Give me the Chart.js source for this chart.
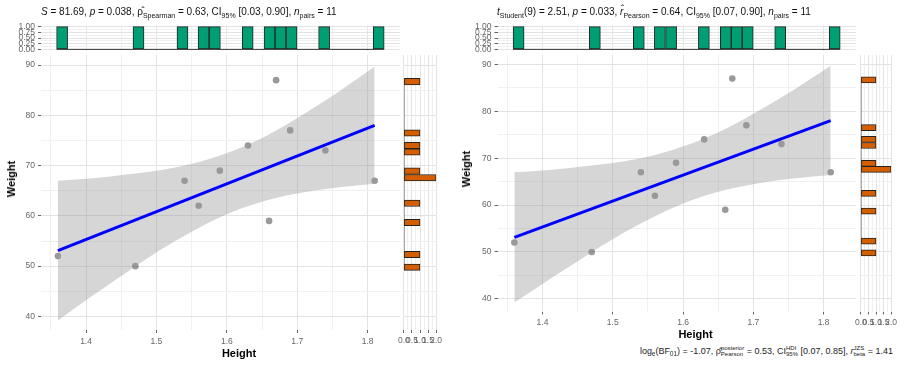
<!DOCTYPE html>
<html>
<head>
<meta charset="utf-8">
<title>Height vs Weight</title>
<script src="https://cdn.jsdelivr.net/npm/chart.js"></script>
<style>
    body { margin: 0; background: #fff; }
    #wrap { position: relative; width: 900px; height: 365px; overflow: hidden; font-family: 'Liberation Sans', Arial, sans-serif; color: #000; }
    canvas { position: absolute; }
    .t { position: absolute; top: 5px; font-size: 10px; line-height: 14px; white-space: nowrap; color: #111; }
    .sb { font-size: 7px; position: relative; top: 2.5px; }
    .cap { position: absolute; right: 7px; top: 345px; font-size: 9px; font-weight: normal; line-height: 12px; white-space: nowrap; color: #222; }
    .cap .sb { font-size: 6.3px; top: 2px; }
    .st { display: inline-flex; flex-direction: column; font-size: 6px; line-height: 6px; vertical-align: 4px; }
    .ax { position: absolute; font-weight: bold; font-size: 11px; white-space: nowrap; transform: translate(-50%, -50%); }
    .rot { transform: translate(-50%, -50%) rotate(-90deg); }
</style>
</head>
<body>
<div id="wrap">
    <canvas id="topL" width="410" height="55" style="left:0;top:5px"></canvas>
    <canvas id="mainL" width="410" height="320" style="left:0;top:45px"></canvas>
    <canvas id="sideL" width="50" height="320" style="left:395px;top:45px"></canvas>

    <canvas id="topR" width="416" height="55" style="left:450px;top:5px"></canvas>
    <canvas id="mainR" width="416" height="300" style="left:450px;top:45px"></canvas>
    <canvas id="sideR" width="48" height="300" style="left:852px;top:45px"></canvas>

    <div class="t" style="left:41px"><i>S</i> = 81.69, <i>p</i> = 0.038, ρ̂<span class="sb">Spearman</span> = 0.63, CI<span class="sb">95%</span> [0.03, 0.90], <i>n</i><span class="sb">pairs</span> = 11</div>
    <div class="t" style="left:497px"><i>t</i><span class="sb">Student</span>(9) = 2.51, <i>p</i> = 0.033, <i>r̂</i><span class="sb">Pearson</span> = 0.64, CI<span class="sb">95%</span> [0.07, 0.90], <i>n</i><span class="sb">pairs</span> = 11</div>
    <div class="cap">log<span class="sb">e</span>(BF<span class="sb">01</span>) = -1.07, ρ̂<span class="st"><span>posterior</span><span>Pearson</span></span> = 0.53, CI<span class="st"><span>HDI</span><span>95%</span></span> [0.07, 0.85], <i>r</i><span class="st"><span>JZS</span><span>beta</span></span> = 1.41</div>

    <div class="ax" style="left:239px;top:353px">Height</div>
    <div class="ax rot" style="left:10.5px;top:179px">Weight</div>
    <div class="ax" style="left:695.5px;top:334px">Height</div>
    <div class="ax rot" style="left:466px;top:168.5px">Weight</div>
</div>
<script>
// observations
var heights = [1.36, 1.47, 1.54, 1.56, 1.59, 1.63, 1.66, 1.67, 1.69, 1.74, 1.81];
var weights = [52, 50, 67, 62, 69, 74, 59, 87, 77, 73, 67];

// fitted line and its 95% band
var fitX = [1.36, 1.81];
var fitY = [53.1, 78.0];
var bandX = [1.36, 1.41, 1.46, 1.51, 1.56, 1.61, 1.66, 1.71, 1.76, 1.81];
var bandLow = [39.2, 44.2, 49.0, 53.6, 57.6, 60.9, 63.2, 64.7, 65.7, 66.4];
var bandHigh = [67.0, 67.5, 68.3, 69.2, 70.7, 73.0, 76.2, 80.3, 84.8, 89.7];

// marginal histograms (bin centres and counts)
var heightBins = [1.366, 1.4745, 1.537, 1.567, 1.583, 1.6296, 1.6607, 1.6763, 1.6919, 1.7382, 1.8157];
var heightCounts = [1, 1, 1, 1, 1, 1, 1, 1, 1, 1, 1];
var heightBinWidth = 0.0155;
var weightBins = [86.7, 76.5, 74.0, 72.7, 68.9, 67.6, 62.5, 58.7, 52.3, 49.8];
var weightCounts = [1, 1, 1, 1, 1, 2, 1, 1, 1, 1];
var weightBinWidth = 1.276;

// axes
var xRange = [1.336, 1.846];
var yRange = [37.3, 92.0];
var xBreaks = [1.4, 1.5, 1.6, 1.7, 1.8];
var xMinor = [1.35, 1.45, 1.55, 1.65, 1.75];
var yBreaks = [40, 50, 60, 70, 80, 90];
var yMinor = [45, 55, 65, 75, 85];
var countBreaks = [0, 0.25, 0.5, 0.75, 1];
var countMinor = [0.125, 0.375, 0.625, 0.875];
var sideBreaks = [0, 0.5, 1, 1.5, 2];
var sideMinor = [0.25, 0.75, 1.25, 1.75];

Chart.defaults.font.family = "'Liberation Sans', Arial, sans-serif";
Chart.defaults.plugins.legend.display = false;
Chart.defaults.plugins.tooltip.enabled = false;

var gridMajor = '#E3E3E3';
var gridMinor = '#F0F0F0';

function near(list, v) {
    return list.some(function(b) { return Math.abs(b - v) < 1e-6; });
}

function scale(o) {
    var all = o.major.concat(o.minor).sort(function(a, b) { return a - b; });
    return {
        type: 'linear',
        min: o.min,
        max: o.max,
        offset: false,
        afterBuildTicks: function(s) {
            s.ticks = all.map(function(v) { return { value: v }; });
        },
        afterFit: function(s) {
            if (s.isHorizontal()) s.height = o.size; else s.width = o.size;
        },
        border: { display: false },
        grid: {
            offset: false,
            color: function(ctx) { return ctx.tick && !near(o.major, ctx.tick.value) ? gridMinor : gridMajor; },
            drawTicks: !!o.labels,
            tickLength: 3,
            tickColor: function(ctx) { return ctx.tick && near(o.major, ctx.tick.value) ? '#666' : 'rgba(0,0,0,0)'; }
        },
        ticks: {
            display: !!o.labels,
            autoSkip: false,
            maxRotation: 0,
            minRotation: 0,
            padding: o.pad || 3,
            color: '#666',
            font: { size: 8.5 },
            callback: function(v) { return near(o.major, v) ? o.fmt(v) : ''; }
        }
    };
}

function fmt1(v) { return v.toFixed(1); }
function fmt2(v) { return v.toFixed(2); }
function fmt0(v) { return String(v); }

function xy(xs, ys) {
    return xs.map(function(x, i) { return { x: x, y: ys[i] }; });
}

function mainChart(id, yWidth, xHeight, xPad) {
    new Chart(document.getElementById(id), {
        type: 'line',
        data: {
            datasets: [{
                data: xy(bandX, bandLow),
                borderColor: 'rgba(0,0,0,0)',
                borderWidth: 0,
                pointRadius: 0,
                fill: false,
                cubicInterpolationMode: 'monotone',
                order: 2
            }, {
                data: xy(bandX, bandHigh),
                borderColor: 'rgba(0,0,0,0)',
                borderWidth: 0,
                pointRadius: 0,
                fill: '-1',
                backgroundColor: 'rgba(153,153,153,0.4)',
                cubicInterpolationMode: 'monotone',
                order: 2
            }, {
                data: xy(fitX, fitY),
                borderColor: '#0000FF',
                borderWidth: 3,
                pointRadius: 0,
                order: 1
            }, {
                data: xy(heights, weights),
                showLine: false,
                pointRadius: 3.3,
                pointBackgroundColor: 'rgba(0,0,0,0.4)',
                pointBorderWidth: 0,
                order: 3
            }]
        },
        options: {
            responsive: false,
            animation: false,
            devicePixelRatio: 1,
            layout: { padding: { top: 10, right: 10, bottom: 0, left: 0 } },
            scales: {
                x: scale({ min: xRange[0], max: xRange[1], major: xBreaks, minor: xMinor, fmt: fmt1, size: xHeight, labels: true, pad: xPad }),
                y: scale({ min: yRange[0], max: yRange[1], major: yBreaks, minor: yMinor, fmt: fmt0, size: yWidth, labels: true })
            }
        }
    });
}

function topChart(id, yWidth) {
    var half = heightBinWidth / 2;
    new Chart(document.getElementById(id), {
        type: 'bar',
        data: {
            datasets: [{
                data: xy(heightBins, heightCounts),
                backgroundColor: '#009E73',
                borderColor: '#222',
                borderWidth: 1,
                borderSkipped: false,
                barThickness: 11,
                order: 1
            }, {
                type: 'line',
                data: [{ x: heightBins[0] - half, y: 0 }, { x: heightBins[heightBins.length - 1] + half, y: 0 }],
                borderColor: '#333',
                borderWidth: 1,
                pointRadius: 0,
                order: 2
            }]
        },
        options: {
            responsive: false,
            animation: false,
            devicePixelRatio: 1,
            layout: { padding: { top: 20.5, right: 10, bottom: 9.5, left: 0 } },
            scales: {
                x: scale({ min: xRange[0], max: xRange[1], major: xBreaks, minor: xMinor, fmt: fmt1, size: 0, labels: false }),
                y: scale({ min: -0.05, max: 1.05, major: countBreaks, minor: countMinor, fmt: fmt2, size: yWidth, labels: true })
            }
        }
    });
}

function sideChart(id, padSide, xHeight, barSize) {
    var half = weightBinWidth / 2;
    new Chart(document.getElementById(id), {
        type: 'bar',
        data: {
            datasets: [{
                data: weightBins.map(function(w, i) { return { x: weightCounts[i], y: w }; }),
                backgroundColor: '#D55E00',
                borderColor: '#222',
                borderWidth: 1,
                borderSkipped: false,
                barThickness: barSize,
                order: 1
            }, {
                type: 'line',
                data: [{ x: 0, y: weightBins[weightBins.length - 1] - half }, { x: 0, y: weightBins[0] + half }],
                borderColor: '#333',
                borderWidth: 1,
                pointRadius: 0,
                order: 2
            }]
        },
        options: {
            indexAxis: 'y',
            responsive: false,
            animation: false,
            devicePixelRatio: 1,
            layout: { padding: { top: 10, right: padSide, bottom: 0, left: padSide } },
            scales: {
                x: scale({ min: 0, max: 2, major: sideBreaks, minor: sideMinor, fmt: fmt1, size: xHeight, labels: true }),
                y: scale({ min: yRange[0], max: yRange[1], major: yBreaks, minor: yMinor, fmt: fmt0, size: 0, labels: false })
            }
        }
    });
}

topChart('topL', 41);
mainChart('mainL', 41, 35, 4);
sideChart('sideL', 8, 35, 6.4);

topChart('topR', 47.5);
mainChart('mainR', 47.5, 33.5, 3);
sideChart('sideR', 7.5, 33.5, 6);
</script>
</body>
</html>
